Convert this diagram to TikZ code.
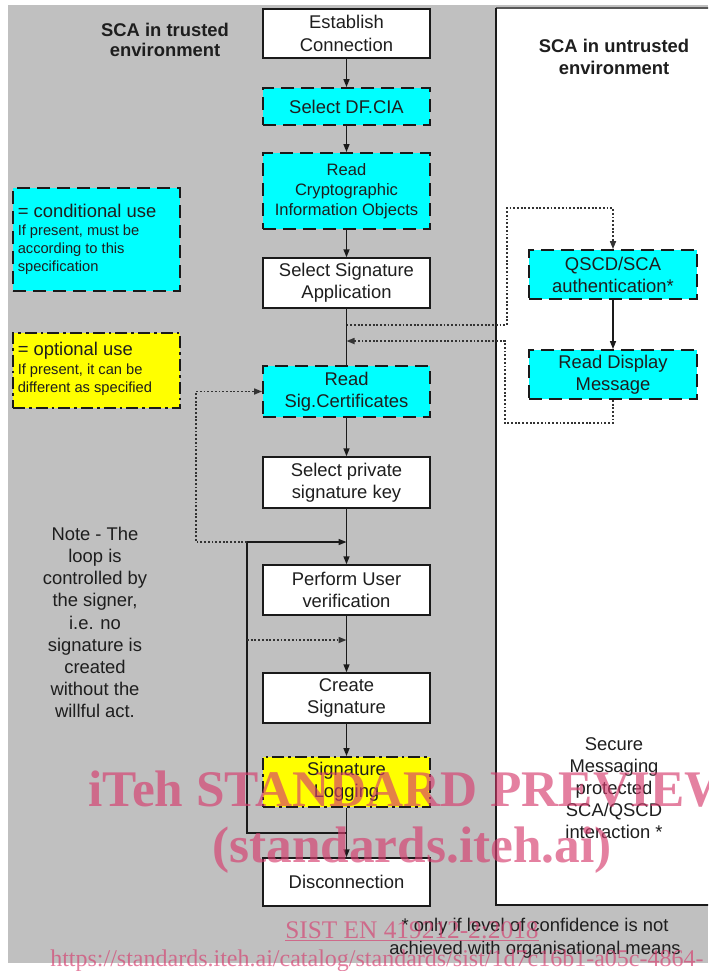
\documentclass[tikz,border=0pt]{standalone}
\usepackage{fontspec}
\setmainfont{Liberation Sans}
\newfontfamily\wmfont{Liberation Serif}
\usetikzlibrary{arrows.meta}
\definecolor{bggray}{HTML}{C0C0C0}
\definecolor{cyanbox}{HTML}{00FFFF}
\definecolor{yellowbox}{HTML}{FFFF00}
\definecolor{txt}{HTML}{1E1E1E}
\definecolor{edge}{HTML}{1A1A1A}
\definecolor{dotcol}{HTML}{333333}
\definecolor{wm}{RGB}{214,60,110}
\begin{document}
\begin{tikzpicture}[x=0.75pt,y=-0.75pt,
  stepbox/.style={draw=edge, line width=1.1pt, fill=white, minimum width=125.25pt,
    align=center, text=txt, inner sep=0pt, font=\fontsize{13.8pt}{16.5pt}\selectfont},
  condbox/.style={stepbox, fill=cyanbox, dash pattern=on 10pt off 5pt, line width=1.4pt},
  optbox/.style={stepbox, fill=yellowbox, dash pattern=on 9pt off 3pt on 2pt off 3pt, line width=1.4pt},
  tip/.style={-{Triangle[length=6pt,width=4.5pt]}},
  flowline/.style={draw=edge, line width=1.1pt},
  dotline/.style={draw=dotcol, line width=1.2pt, dash pattern=on 1.4pt off 1.4pt},
  txtlbl/.style={align=center, text=txt, inner sep=0pt, font=\fontsize{13.8pt}{16.6pt}\selectfont},
  headlbl/.style={txtlbl, font=\bfseries\fontsize{13.8pt}{15.4pt}\selectfont},
  legtitle/.style={anchor=west, text=txt, inner sep=0pt, font=\fontsize{13.8pt}{16pt}\selectfont},
  legsmall/.style={anchor=west, align=left, text=txt, inner sep=0pt, font=\fontsize{11pt}{13.5pt}\selectfont},
  wmtext/.style={text=wm, text opacity=0.65, inner sep=0pt}
]
\useasboundingbox (0,0) rectangle (708,971);
\clip (0,0) rectangle (708,971);
\fill[white] (0,0) rectangle (708,971);
% background
\fill[bggray] (8,5) rectangle (708,963);
% untrusted panel
\fill[white] (496,8) rectangle (715,905);
\draw[gray!70!black, line width=1pt] (496,8) -- (715,8);
\draw[edge, line width=1.5pt] (496,8) -- (496,905) -- (715,905);

% headings
\node[headlbl] (trusted) at (165,40) {SCA in trusted\\environment};
\node[headlbl, font=\bfseries\fontsize{13.8pt}{16.5pt}\selectfont] (untrusted) at (614,57) {SCA in untrusted\\environment};

% main flow
\node[stepbox, minimum height=36.75pt, font=\fontsize{13.8pt}{17.2pt}\selectfont] (est) at (346.5,33.5) {Establish\\Connection};
\node[condbox, minimum height=27.75pt] (dfcia) at (346.5,106.5) {Select DF.CIA};
\node[condbox, minimum height=57pt, font=\fontsize{12.4pt}{15pt}\selectfont] (rcio) at (346.5,191) {Read\\Cryptographic\\Information Objects};
\node[stepbox, minimum height=37.5pt] (ssa) at (346.5,283) {Select Signature\\Application};
\node[condbox, minimum height=38.25pt] (rsc) at (346.5,391.5) {Read\\Sig.Certificates};
\node[stepbox, minimum height=38.25pt] (spk) at (346.5,482.5) {Select private\\signature key};
\node[stepbox, minimum height=37.5pt] (puv) at (346.5,590) {Perform User\\verification};
\node[stepbox, minimum height=37.5pt] (cs) at (346.5,698) {Create\\Signature};
\node[optbox, minimum height=37.5pt] (sl) at (346.5,782) {Signature\\Logging};
\node[stepbox, minimum height=36pt] (disc) at (346.5,882) {Disconnection};

% untrusted side
\node[condbox, minimum width=126pt, minimum height=36.75pt] (qscd) at (613,274.5) {QSCD/SCA\\authentication*};
\node[condbox, minimum width=126pt, minimum height=36.75pt] (rdm) at (613,374.5) {Read Display\\Message};

% legend
\node[condbox, minimum height=77.25pt] (legc) at (96.5,239.5) {};
\node[legtitle] (legctitle) at (17.5,211) {= conditional use};
\node[legsmall] (legctext) at (17.5,250) {If present, must be\\according to this\\specification};
\node[optbox, minimum height=56.25pt] (lego) at (96.5,370.5) {};
\node[legtitle] (legotitle) at (17.5,351) {= optional use};
\node[legsmall] (logotext) at (17.5,380) {If present, it can be\\different as specified};

% notes
\node[txtlbl] (note) at (95,622.5) {Note - The\\loop is\\controlled by\\the signer,\\i.e. no\\signature is\\created\\without the\\willful act.};
\node[txtlbl] (secure) at (614,788) {Secure\\Messaging\\protected\\SCA/QSCD\\interaction *};
\node[txtlbl, font=\fontsize{13.8pt}{17.25pt}\selectfont] (foot) at (535,938.5) {* only if level of confidence is not\\achieved with organisational means};

% coordinates
\coordinate (tapA) at (346.5,325);
\coordinate (tapB) at (346.5,341);
\coordinate (loopTop) at (346.5,542);
\coordinate (loopBot) at (346.5,833);
\coordinate (skipIn) at (346.5,640);
\coordinate (cornerTL) at (247,542);
\coordinate (dotC) at (247,640);
\coordinate (upA) at (507,208);
\coordinate (dnB) at (505,423);
\coordinate (leftC) at (196,391.5);

% main connectors
\draw[flowline, tip] (est) -- (dfcia);
\draw[flowline, tip] (dfcia) -- (rcio);
\draw[flowline, tip] (rcio) -- (ssa);
\draw[flowline] (ssa) -- (rsc);
\draw[flowline, tip] (rsc) -- (spk);
\draw[flowline, tip] (spk) -- (puv);
\draw[flowline, tip] (puv) -- (cs);
\draw[flowline, tip] (cs) -- (sl);
\draw[flowline, tip] (sl) -- (disc);
\draw[flowline, tip] (qscd) -- (rdm);

% loop
\draw[flowline, tip] (loopBot) -| (cornerTL) -- (loopTop);

% dotted connectors
\draw[dotline, tip] (tapA) -| (upA) -| (qscd.north);
\draw[dotline, tip] (rdm.south) |- (dnB) |- (tapB);
\draw[dotline, tip] (cornerTL) -| (leftC) -- (rsc.west);
\draw[dotline, tip] (dotC) -- (skipIn);

% watermark
\node[wmtext, anchor=base west, font=\wmfont\bfseries\fontsize{38.5pt}{40pt}\selectfont] (wm1) at (88,806) {iTeh STANDARD PREVIEW};
\node[wmtext, anchor=base, font=\wmfont\bfseries\fontsize{38.5pt}{40pt}\selectfont] (wm2) at (412,862) {(standards.iteh.ai)};
\node[wmtext, anchor=base west, font=\wmfont\fontsize{19pt}{20pt}\selectfont] (wm3) at (285,938) {\underline{SIST EN 419212-2:2018}};
\node[wmtext, anchor=base west, font=\wmfont\fontsize{18pt}{20pt}\selectfont] (wm4) at (50,966) {https://standards.iteh.ai/catalog/standards/sist/1d7c16b1-a05c-4864-};
\end{tikzpicture}
\end{document}
